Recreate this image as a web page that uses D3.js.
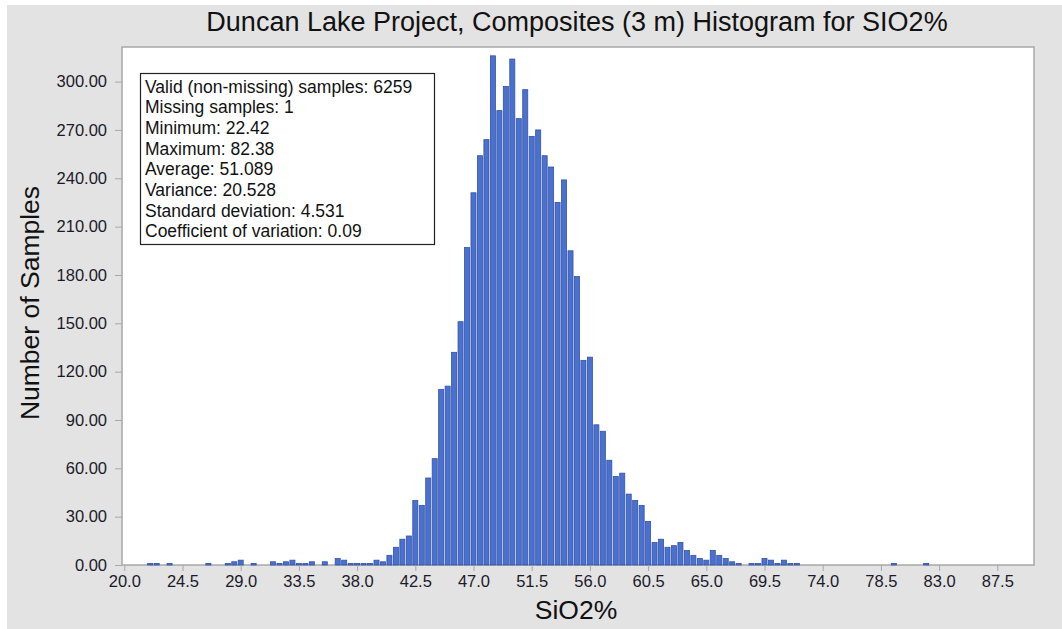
<!DOCTYPE html>
<html>
<head>
<meta charset="utf-8">
<script src="https://cdn.jsdelivr.net/npm/d3@7"></script>
<style>
  body { margin: 0; background: #fff; }
  text { font-family: "Liberation Sans", Arial, sans-serif; }
</style>
</head>
<body>
<div class="chart"></div>
<script>
var w = 1062;
var h = 629;

// bin start (SiO2 %) and sample count, bin width 0.5
var bins = [22.0, 22.5, 23.5, 26.5, 28.0, 28.5, 29.0, 30.0, 31.5, 32.0, 32.5, 33.0, 33.5, 34.0, 34.5,
    35.5, 36.5, 37.0, 37.5, 38.0, 38.5, 39.0, 39.5, 40.0, 40.5, 41.0, 41.5, 42.0,
    42.5, 43.0, 43.5, 44.0, 44.5, 45.0, 45.5, 46.0, 46.5, 47.0, 47.5, 48.0, 48.5, 49.0,
    49.5, 50.0, 50.5, 51.0, 51.5, 52.0, 52.5, 53.0, 53.5, 54.0, 54.5, 55.0, 55.5, 56.0,
    56.5, 57.0, 57.5, 58.0, 58.5, 59.0, 59.5, 60.0, 60.5, 61.0, 61.5, 62.0, 62.5, 63.0,
    63.5, 64.0, 64.5, 65.0, 65.5, 66.0, 66.5, 67.0, 67.5, 68.5, 69.0, 69.5, 70.0, 70.5,
    71.0, 71.5, 72.0, 79.5, 82.0];
var counts = [1, 1, 1, 1, 1, 2, 3, 1, 2, 1, 2, 3, 1, 1, 2,
    2, 4, 3, 1, 1, 1, 1, 3, 2, 6, 11, 16, 18,
    40, 37, 54, 66, 109, 111, 132, 151, 197, 231, 254, 264, 316, 282,
    297, 314, 277, 295, 266, 270, 254, 247, 225, 239, 195, 179, 127, 129,
    87, 83, 65, 55, 57, 44, 40, 37, 27, 14, 16, 11, 12, 14,
    9, 6, 4, 3, 9, 6, 4, 2, 1, 1, 1, 4, 3, 1,
    3, 1, 1, 1, 1];

var xTicks = [20.0, 24.5, 29.0, 33.5, 38.0, 42.5, 47.0, 51.5, 56.0, 60.5, 65.0, 69.5, 74.0, 78.5, 83.0, 87.5];
var yTicks = [0, 30, 60, 90, 120, 150, 180, 210, 240, 270, 300];

var stats = [
    "Valid (non-missing) samples: 6259",
    "Missing samples: 1",
    "Minimum: 22.42",
    "Maximum: 82.38",
    "Average: 51.089",
    "Variance: 20.528",
    "Standard deviation: 4.531",
    "Coefficient of variation: 0.09"
];

var title = "Duncan Lake Project, Composites (3 m) Histogram for SIO2%";
var binWidth = 0.5;

var plot = {left: 122, top: 47, right: 1034, bottom: 565};

var xScale = d3.scaleLinear()
    .domain([20, 87.5])
    .range([124.3, 997.3]);

var yScale = d3.scaleLinear()
    .domain([0, 300])
    .range([plot.bottom, 81.6]);

var svg = d3.select(".chart")
    .append("svg")
    .attr("width", w)
    .attr("height", h);

svg.append("rect")
    .attr("x", 7).attr("y", 5)
    .attr("width", w - 7).attr("height", h - 5)
    .attr("fill", "#e3e3e3");

svg.append("rect")
    .attr("x", plot.left).attr("y", plot.top)
    .attr("width", plot.right - plot.left)
    .attr("height", plot.bottom - plot.top)
    .attr("fill", "#fff")
    .attr("stroke", "#a8a8a8")
    .attr("stroke-width", 1.5);

// title
svg.append("text")
    .attr("x", 577)
    .attr("y", 31)
    .attr("text-anchor", "middle")
    .attr("font-size", 27)
    .attr("fill", "#111")
    .text(title);

// bars, centred on bin start as the source software draws them
var barW = xScale(binWidth) - xScale(0);
svg.selectAll("rect.bar")
    .data(counts)
    .enter()
    .append("rect")
    .attr("class", "bar")
    .attr("x", function(d, i) {
        return xScale(bins[i]) - barW * 0.39;
    })
    .attr("y", function(d) {
        return yScale(d);
    })
    .attr("width", barW * 0.78)
    .attr("height", function(d) {
        return plot.bottom - yScale(d);
    })
    .attr("fill", "#4a71cf")
    .attr("stroke", "#3352a6")
    .attr("stroke-width", 0.8);

// y axis
var yAxis = d3.axisLeft(yScale)
    .tickValues(yTicks)
    .tickFormat(d3.format(".2f"))
    .tickSize(7)
    .tickPadding(8);

var gy = svg.append("g")
    .attr("transform", "translate(" + plot.left + ",0)")
    .call(yAxis);
gy.select(".domain").remove();
gy.selectAll(".tick line").attr("stroke", "#a8a8a8");
gy.selectAll(".tick text")
    .attr("font-size", 16.5)
    .attr("fill", "#1a1a2a")
    .style("font-family", "'Liberation Sans', Arial, sans-serif");

// x axis
var xAxis = d3.axisBottom(xScale)
    .tickValues(xTicks)
    .tickFormat(d3.format(".1f"))
    .tickSize(6)
    .tickPadding(4);

var gx = svg.append("g")
    .attr("transform", "translate(0," + plot.bottom + ")")
    .call(xAxis);
gx.select(".domain").remove();
gx.selectAll(".tick line").attr("stroke", "#a8a8a8");
gx.selectAll(".tick text")
    .attr("font-size", 16.5)
    .attr("fill", "#1a1a2a")
    .style("font-family", "'Liberation Sans', Arial, sans-serif");

// axis titles
svg.append("text")
    .attr("x", 576)
    .attr("y", 619)
    .attr("text-anchor", "middle")
    .attr("font-size", 26.5)
    .attr("fill", "#111")
    .text("SiO2%");

svg.append("text")
    .attr("transform", "translate(39,303) rotate(-90)")
    .attr("text-anchor", "middle")
    .attr("font-size", 26.5)
    .attr("fill", "#111")
    .text("Number of Samples");

// stats box
svg.append("rect")
    .attr("x", 140.5).attr("y", 73.5)
    .attr("width", 294).attr("height", 171)
    .attr("fill", "#fff")
    .attr("stroke", "#222")
    .attr("stroke-width", 1.2);

svg.selectAll("text.stat")
    .data(stats)
    .enter()
    .append("text")
    .attr("class", "stat")
    .attr("x", 145)
    .attr("y", function(d, i) {
        return 92.5 + i * 20.7;
    })
    .attr("font-size", 17.5)
    .attr("fill", "#111")
    .text(function(d) { return d; });
</script>
</body>
</html>
